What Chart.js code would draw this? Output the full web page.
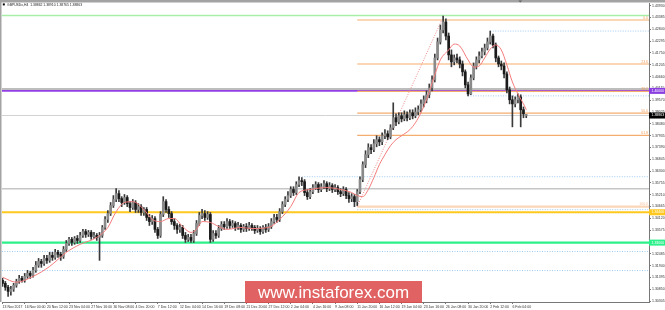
<!DOCTYPE html>
<html><head><meta charset="utf-8">
<script src="https://cdn.jsdelivr.net/npm/chart.js@4.4.1/dist/chart.umd.min.js"></script>
<style>html,body{margin:0;padding:0;background:#fff;}#wrap{width:665px;height:310px;}</style>
</head><body><div id="wrap"><canvas id="c" width="665" height="310"></canvas></div>
<script>
// ---------------- DATA ----------------
const symbol = 'GBPUSDx,H4';
const watermark = 'www.instaforex.com';
const barsPerLabel = 8;
const xLabels = ["13 Nov 2017","16 Nov 00:00","20 Nov 12:00","23 Nov 04:00","27 Nov 16:00","30 Nov 08:00","4 Dec 20:00","7 Dec 12:00","12 Dec 04:00","14 Dec 16:00","19 Dec 08:00","21 Dec 20:00","27 Dec 12:00","2 Jan 04:00","4 Jan 16:00","9 Jan 08:00","11 Jan 20:00","16 Jan 12:00","19 Jan 04:00","23 Jan 16:00","26 Jan 08:00","30 Jan 20:00","2 Feb 12:00","6 Feb 04:00"];
const yTicks = [1.43930,1.43385,1.42840,1.42295,1.41750,1.41205,1.40660,1.40115,1.39570,1.39025,1.38480,1.37935,1.37390,1.36845,1.36300,1.35755,1.35210,1.34665,1.34120,1.33575,1.33030,1.32485,1.31940,1.31395,1.30850,1.30305];

const opens = [
1.3126,1.3112,1.3094,1.3075,1.3085,1.3103,1.3121,1.3135,1.3126,1.3144,
1.3158,1.3149,1.3172,1.3195,1.3213,1.3204,1.3227,1.3218,1.3241,1.3232,
1.3255,1.3246,1.3236,1.3269,1.3296,1.3315,1.3301,1.3319,1.3310,1.3333,
1.3351,1.3338,1.3347,1.3328,1.3333,1.3324,1.3333,1.3370,1.3407,1.3434,
1.3471,1.3499,1.3526,1.3503,1.3485,1.3508,1.3480,1.3462,1.3485,1.3453,
1.3466,1.3439,1.3453,1.3416,1.3397,1.3411,1.3361,1.3333,1.3430,1.3489,
1.3453,1.3434,1.3397,1.3379,1.3361,1.3370,1.3333,1.3315,1.3324,1.3310,
1.3342,1.3388,1.3425,1.3434,1.3416,1.3430,1.3315,1.3342,1.3333,1.3365,
1.3384,1.3374,1.3397,1.3379,1.3388,1.3370,1.3379,1.3361,1.3374,1.3365,
1.3379,1.3370,1.3356,1.3365,1.3351,1.3370,1.3361,1.3374,1.3397,1.3416,
1.3407,1.3443,1.3476,1.3499,1.3517,1.3545,1.3531,1.3568,1.3586,1.3581,
1.3531,1.3512,1.3535,1.3554,1.3568,1.3545,1.3558,1.3572,1.3549,1.3563,
1.3545,1.3554,1.3535,1.3526,1.3545,1.3517,1.3503,1.3512,1.3489,1.3535,
1.3591,1.3660,1.3706,1.3738,1.3729,1.3756,1.3775,1.3765,1.3793,1.3802,
1.3788,1.3830,1.3876,1.3857,1.3885,1.3871,1.3890,1.3876,1.3899,1.3885,
1.3903,1.3913,1.3940,1.3959,1.3982,1.4014,1.4051,1.4152,1.4226,1.4281,
1.4318,1.4253,1.4166,1.4134,1.4152,1.4143,1.4124,1.4088,1.4028,1.3986,
1.4060,1.4115,1.4143,1.4161,1.4180,1.4198,1.4226,1.4253,1.4212,1.4152,
1.4124,1.4115,1.4078,1.4005,1.3959,1.3940,1.3959,1.3972,1.3913,1.38862];
const highs = [
1.3135,1.3121,1.3103,1.3098,1.3112,1.3131,1.3149,1.3144,1.3158,1.3172,
1.3167,1.3186,1.3213,1.3227,1.3223,1.3241,1.3241,1.3255,1.3255,1.3269,
1.3264,1.3255,1.3282,1.3310,1.3324,1.3324,1.3328,1.3333,1.3347,1.3361,
1.3361,1.3356,1.3356,1.3347,1.3342,1.3347,1.3379,1.3420,1.3448,1.3485,
1.3517,1.3549,1.3540,1.3512,1.3522,1.3517,1.3489,1.3499,1.3494,1.3480,
1.3476,1.3462,1.3462,1.3430,1.3425,1.3420,1.3370,1.3443,1.3512,1.3499,
1.3466,1.3443,1.3411,1.3388,1.3384,1.3379,1.3347,1.3338,1.3338,1.3356,
1.3402,1.3439,1.3453,1.3448,1.3443,1.3439,1.3356,1.3356,1.3379,1.3397,
1.3397,1.3411,1.3407,1.3402,1.3397,1.3393,1.3388,1.3384,1.3388,1.3393,
1.3388,1.3379,1.3379,1.3374,1.3379,1.3384,1.3388,1.3411,1.3430,1.3430,
1.3457,1.3489,1.3512,1.3535,1.3558,1.3558,1.3581,1.3604,1.3600,1.3591,
1.3545,1.3549,1.3568,1.3581,1.3577,1.3572,1.3586,1.3581,1.3577,1.3572,
1.3568,1.3563,1.3549,1.3558,1.3554,1.3531,1.3526,1.3522,1.3545,1.3604,
1.3673,1.3724,1.3756,1.3752,1.3775,1.3793,1.3788,1.3807,1.3821,1.3816,
1.3844,1.3945,1.3894,1.3899,1.3899,1.3908,1.3903,1.3913,1.3913,1.3922,
1.3931,1.3959,1.3977,1.4000,1.4032,1.4069,1.4170,1.4244,1.4304,1.4345,
1.4332,1.4267,1.4189,1.4166,1.4170,1.4157,1.4138,1.4097,1.4041,1.4074,
1.4129,1.4157,1.4180,1.4198,1.4216,1.4244,1.4276,1.4262,1.4221,1.4161,
1.4138,1.4129,1.4088,1.4018,1.3977,1.3972,1.3986,1.3982,1.3926,1.38910];
const lows = [
1.3098,1.3080,1.3052,1.3057,1.3075,1.3094,1.3112,1.3117,1.3117,1.3135,
1.3135,1.3140,1.3163,1.3186,1.3186,1.3195,1.3204,1.3209,1.3218,1.3223,
1.3232,1.3218,1.3227,1.3259,1.3287,1.3287,1.3292,1.3296,1.3301,1.3324,
1.3324,1.3328,1.3315,1.3319,1.3310,1.3218,1.3324,1.3361,1.3393,1.3425,
1.3462,1.3489,1.3489,1.3466,1.3476,1.3466,1.3443,1.3453,1.3439,1.3439,
1.3425,1.3425,1.3402,1.3379,1.3384,1.3347,1.3319,1.3324,1.3420,1.3439,
1.3416,1.3384,1.3361,1.3342,1.3347,1.3319,1.3301,1.3305,1.3301,1.3301,
1.3333,1.3379,1.3411,1.3402,1.3407,1.3301,1.3305,1.3319,1.3324,1.3356,
1.3361,1.3365,1.3365,1.3370,1.3356,1.3361,1.3347,1.3351,1.3351,1.3356,
1.3356,1.3342,1.3347,1.3338,1.3342,1.3347,1.3351,1.3365,1.3388,1.3393,
1.3397,1.3434,1.3466,1.3489,1.3508,1.3517,1.3522,1.3558,1.3563,1.3517,
1.3499,1.3503,1.3526,1.3545,1.3531,1.3535,1.3549,1.3535,1.3540,1.3531,
1.3535,1.3522,1.3512,1.3517,1.3503,1.3485,1.3489,1.3466,1.3471,1.3526,
1.3581,1.3646,1.3692,1.3710,1.3719,1.3742,1.3747,1.3752,1.3779,1.3775,
1.3779,1.3821,1.3839,1.3848,1.3857,1.3862,1.3862,1.3867,1.3871,1.3876,
1.3890,1.3903,1.3926,1.3945,1.3968,1.4000,1.4041,1.4143,1.4216,1.4267,
1.4235,1.4143,1.4111,1.4120,1.4129,1.4106,1.4069,1.4014,1.3977,1.3982,
1.4051,1.4101,1.4129,1.4152,1.4166,1.4189,1.4216,1.4198,1.4134,1.4111,
1.4097,1.4060,1.3991,1.3940,1.3834,1.3926,1.3945,1.3834,1.3876,1.38765];
const closes = [
1.3112,1.3094,1.3075,1.3085,1.3103,1.3121,1.3135,1.3126,1.3144,1.3158,
1.3149,1.3172,1.3195,1.3213,1.3204,1.3227,1.3218,1.3241,1.3232,1.3255,
1.3246,1.3236,1.3269,1.3296,1.3315,1.3301,1.3319,1.3310,1.3333,1.3351,
1.3338,1.3347,1.3328,1.3333,1.3324,1.3333,1.3370,1.3407,1.3434,1.3471,
1.3499,1.3526,1.3503,1.3485,1.3508,1.3480,1.3462,1.3485,1.3453,1.3466,
1.3439,1.3453,1.3416,1.3397,1.3411,1.3361,1.3333,1.3430,1.3489,1.3453,
1.3434,1.3397,1.3379,1.3361,1.3370,1.3333,1.3315,1.3324,1.3310,1.3342,
1.3388,1.3425,1.3434,1.3416,1.3430,1.3315,1.3342,1.3333,1.3365,1.3384,
1.3374,1.3397,1.3379,1.3388,1.3370,1.3379,1.3361,1.3374,1.3365,1.3379,
1.3370,1.3356,1.3365,1.3351,1.3370,1.3361,1.3374,1.3397,1.3416,1.3407,
1.3443,1.3476,1.3499,1.3517,1.3545,1.3531,1.3568,1.3586,1.3581,1.3531,
1.3512,1.3535,1.3554,1.3568,1.3545,1.3558,1.3572,1.3549,1.3563,1.3545,
1.3554,1.3535,1.3526,1.3545,1.3517,1.3503,1.3512,1.3489,1.3535,1.3591,
1.3660,1.3706,1.3738,1.3729,1.3756,1.3775,1.3765,1.3793,1.3802,1.3788,
1.3830,1.3876,1.3857,1.3885,1.3871,1.3890,1.3876,1.3899,1.3885,1.3903,
1.3913,1.3940,1.3959,1.3982,1.4014,1.4051,1.4152,1.4226,1.4281,1.4318,
1.4253,1.4166,1.4134,1.4152,1.4143,1.4124,1.4088,1.4028,1.3986,1.4060,
1.4115,1.4143,1.4161,1.4180,1.4198,1.4226,1.4253,1.4212,1.4152,1.4124,
1.4115,1.4078,1.4005,1.3959,1.3940,1.3959,1.3972,1.3913,1.3894,1.38863];

// moving average (red line) read at selected bars
const maIdx = [0,5,11,17,23,28,34,38,41,44,47,51,54,57,60,62,65,68,70,72,75,78,81,86,90,96,100,104,107,111,117,122,126,128,130,132,134,136,138,140,142,144,147,149,151,153,156,158,161,163,165,168,170,172,174,176,178,180,182,184,186,188,189];
const maVal = [1.3140,1.3117,1.3144,1.3190,1.3255,1.3292,1.3324,1.3370,1.3443,1.3485,1.3489,1.3453,1.3407,1.3397,1.3411,1.3411,1.3374,1.3347,1.3361,1.3397,1.3393,1.3374,1.3361,1.3370,1.3365,1.3370,1.3407,1.3466,1.3531,1.3545,1.3554,1.3545,1.3531,1.3517,1.3512,1.3545,1.3600,1.3660,1.3706,1.3747,1.3775,1.3793,1.3821,1.3853,1.3899,1.3959,1.4074,1.4143,1.4189,1.4216,1.4207,1.4143,1.4110,1.4115,1.4152,1.4193,1.4212,1.4189,1.4120,1.4041,1.3986,1.3940,1.3913];

// horizontal levels
const levelTop = 1.4348;
const levelGreyHi = 1.4009;
const levelPurple = 1.40000;
const levelGreyLo = 1.3549;
const levelGold = 1.34400;
const levelGreen = 1.33000;
const swingPrices = [1.4276, 1.3977, 1.3604, 1.3452, 1.3259, 1.3171];
const swingFrom = [176, 168, 108, 128, null, null];
const fibLevels = [1.4327, 1.4124, 1.3998, 1.3897, 1.3795, 1.3466];
const fibLabels = ["0.0", "23.6", "38.2", "50.0", "61.8", "100.0"];
const fibFrom = 128;
const fibTrendIdx = [128, 158.5];
const fibTrendVal = [1.3466, 1.4327];

// ---------------- CHART ----------------
const X_MIN = -0.2, X_MAX = 233.3, Y_MIN = 1.3026, Y_MAX = 1.4405;
const FONT = '"Liberation Sans", Arial, sans-serif';
const last = closes.length - 1;
const lastClose = closes[last];

function hline(p, from, color, width, dash, order) {
  return {type: 'line', data: [{x: from == null ? X_MIN : from, y: p}, {x: X_MAX, y: p}],
    borderColor: color, borderWidth: width, borderDash: dash || [], pointRadius: 0,
    fill: false, order: order || 10};
}

const datasets = [
  hline(levelTop, null, '#a8eea8', 1.6),
  ...fibLevels.map((p, k) => hline(p, fibFrom, k === fibLevels.length - 1 ? 'rgba(244,164,96,0.45)' : '#f5ad6e', k === fibLevels.length - 1 ? 2.2 : 1.2)),
  ...swingPrices.map((p, k) => hline(p, swingFrom[k], '#9fcaf2', 1, [1, 1.5])),
  hline(lastClose, null, '#d2d2d2', 1, null, 11),
  hline(levelGreyLo, null, '#c6c6c6', 1.5),
  hline(levelGreyHi, null, '#bdbdbd', 2),
  hline(levelPurple, null, '#9140e6', 1.6),
  hline(levelGold, null, '#ffc81e', 2.2),
  hline(levelGreen, null, '#2cf08a', 2.4),
  {type: 'line', data: fibTrendIdx.map((x, k) => ({x, y: fibTrendVal[k]})), borderColor: '#f08a8a',
   borderWidth: 1, borderDash: [1, 1.5], pointRadius: 0, fill: false, order: 9},
  {type: 'bar', data: highs.map((h, i) => ({x: i, y: [lows[i], h]})), backgroundColor: '#3a3a3a',
   barThickness: 1, grouped: false, borderWidth: 0, order: 5},
  {type: 'bar', data: opens.map((o, i) => ({x: i, y: [o, closes[i]]})),
   backgroundColor: closes.map((c, i) => c >= opens[i] ? '#8a8a8a' : '#1a1a1a'),
   barThickness: 2, grouped: false, borderWidth: 0, minBarLength: 1, order: 4},
  {type: 'line', data: maIdx.map((x, k) => ({x, y: maVal[k]})), borderColor: '#f47c7c', borderWidth: 1,
   pointRadius: 0, fill: false, cubicInterpolationMode: 'monotone', order: 1}
];

const axisBoxes = [
  {v: levelPurple, bg: '#8a3ee0', fg: '#fff'},
  {v: lastClose, bg: '#000', fg: '#fff'},
  {v: levelGold, bg: '#ffc81e', fg: '#fff'},
  {v: levelGreen, bg: '#2cf08a', fg: '#fff'}
];

const overlay = {
  id: 'overlay',
  beforeDraw(chart) {
    const ctx = chart.ctx;
    ctx.save(); ctx.fillStyle = '#fff'; ctx.fillRect(0, 0, chart.width, chart.height); ctx.restore();
  },
  afterDraw(chart) {
    const {ctx, chartArea: a, scales: {y}} = chart;
    const xs = chart.scales.x;
    ctx.save();
    // fib labels
    ctx.font = '3.5px ' + FONT; ctx.textAlign = 'right'; ctx.textBaseline = 'bottom';
    fibLevels.forEach((v, k) => {
      ctx.fillStyle = k === fibLevels.length - 1 ? 'rgba(240,150,90,0.6)' : '#f0a060';
      ctx.fillText(fibLabels[k], a.right - 1, y.getPixelForValue(v) - 0.5);
    });
    // right-axis price boxes
    axisBoxes.forEach(b => {
      const py = y.getPixelForValue(b.v);
      ctx.fillStyle = b.bg; ctx.fillRect(a.right, py - 3, chart.width - a.right, 6);
      ctx.fillStyle = b.fg; ctx.textAlign = 'left'; ctx.textBaseline = 'middle';
      ctx.fillText(b.v.toFixed(5), a.right + 2.5, py);
    });
    // frame
    ctx.fillStyle = '#a3a3a3';
    ctx.fillRect(0, 0, chart.width, 2.5);
    ctx.fillRect(0, 0, 1.5, a.bottom);
    // chart shift marker
    const sx = xs.getPixelForValue(last) - 6;
    ctx.fillStyle = '#666';
    ctx.beginPath(); ctx.moveTo(sx - 2, 0.5); ctx.lineTo(sx + 2, 0.5); ctx.lineTo(sx, 2.5); ctx.closePath(); ctx.fill();
    // title
    ctx.fillStyle = '#000'; ctx.fillRect(2.8, 3.4, 2, 2);
    ctx.fillStyle = '#222'; ctx.font = '3.4px ' + FONT; ctx.textAlign = 'left'; ctx.textBaseline = 'top';
    ctx.fillText(symbol + '  ' + opens[last].toFixed(5) + ' ' + highs[last].toFixed(5) + ' ' + lows[last].toFixed(5) + ' ' + closes[last].toFixed(5), 7, 3.2);
    // watermark
    ctx.fillStyle = 'rgba(221,76,76,0.88)';
    ctx.fillRect(245, 281, 177, 22);
    ctx.fillStyle = '#fff'; ctx.font = '17px ' + FONT; ctx.textAlign = 'center'; ctx.textBaseline = 'alphabetic';
    ctx.fillText(watermark, 333.5, 297.5);
    ctx.restore();
  }
};

new Chart(document.getElementById('c'), {
  type: 'bar',
  data: {datasets},
  options: {
    responsive: false, animation: false, devicePixelRatio: 1,
    layout: {padding: {left: 2, top: 3, right: 0, bottom: 0}},
    plugins: {legend: {display: false}, tooltip: {enabled: false}},
    scales: {
      x: {
        type: 'linear', min: X_MIN, max: X_MAX, offset: false,
        afterBuildTicks: s => { s.ticks = xLabels.map((_, k) => ({value: k * barsPerLabel})); },
        afterFit: s => { s.height = 8; },
        ticks: {autoSkip: false, maxRotation: 0, minRotation: 0, align: 'start', padding: 1,
          font: {size: 3.5, family: FONT}, color: '#333', callback: (v, i) => xLabels[i]},
        grid: {drawOnChartArea: false, tickLength: 2, color: '#777', offset: false},
        border: {color: '#777'}
      },
      y: {
        type: 'linear', position: 'right', min: Y_MIN, max: Y_MAX,
        afterBuildTicks: s => { s.ticks = yTicks.map(v => ({value: v})); },
        afterFit: s => { s.width = 16; },
        ticks: {padding: 1, font: {size: 3.5, family: FONT}, color: '#333', callback: v => v.toFixed(5)},
        grid: {drawOnChartArea: false, tickLength: 2, color: '#777'},
        border: {color: '#777'}
      }
    }
  },
  plugins: [overlay]
});
</script></body></html>
